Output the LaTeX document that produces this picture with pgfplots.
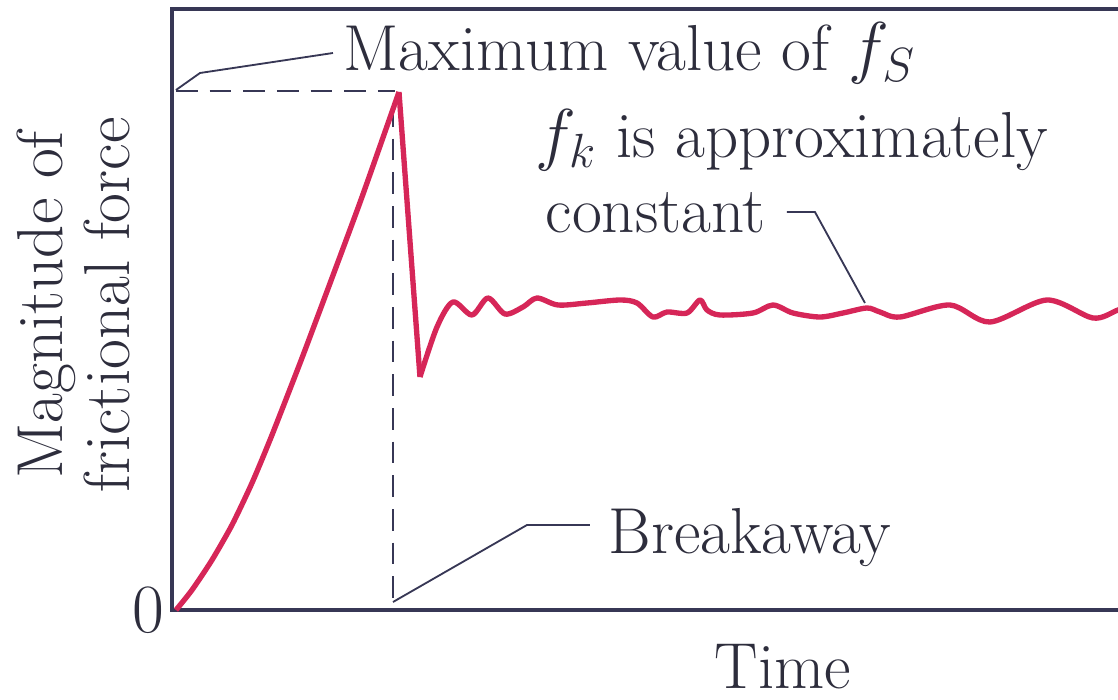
\documentclass[border=0pt]{standalone}
\usepackage{pgfplots}
\pgfplotsset{compat=1.18}
\definecolor{fric}{RGB}{214,38,88}
\definecolor{axc}{RGB}{55,55,85}
\definecolor{txt}{RGB}{45,45,60}
\newcommand{\fs}{\fontsize{19.5}{21}\selectfont}
\begin{document}
\begin{tikzpicture}[x=1pt,y=1pt]
\useasboundingbox (-51.6,-26.7) rectangle (283.8,183.0);
\begin{axis}[
  scale only axis, width=288pt, height=180.3pt,
  xmin=0, xmax=960, ymin=0, ymax=601,
  axis line style={draw=none}, clip=false,
  xtick=\empty, ytick={0}, major tick length=0pt,
  yticklabel style={font=\fs, text=txt, inner sep=2pt},
]
% frame (right side lies beyond the picture)
\draw[axc, line width=1pt] (axis cs:960,601) -- (axis cs:0,601) -- (axis cs:0,0) -- (axis cs:960,0);
% guide lines
\draw[axc, line width=0.6pt, dash pattern=on 6.5pt off 3.6pt] (axis cs:4,519) -- (axis cs:223,519);
\draw[axc, line width=0.6pt, dash pattern=on 6.5pt off 3.6pt] (axis cs:221,505) -- (axis cs:221,2);
% leaders
\draw[axc, line width=0.55pt] (axis cs:161,557) -- (axis cs:28,537) -- (axis cs:4,520);
\draw[axc, line width=0.55pt] (axis cs:221,8) -- (axis cs:355,85) -- (axis cs:418,85);
\draw[axc, line width=0.55pt] (axis cs:615,398) -- (axis cs:643,398) -- (axis cs:693,307);
% frictional force curve
\addplot[fric, line width=1.6pt, line join=round, smooth, tension=0.4] coordinates {
 (4,0)(20,20)(40,50)(60,85)(80,127)(100,175)(130,252)(160,332)(190,413)(227,518)};
\addplot[fric, line width=1.6pt, line join=round] coordinates {(227,518)(248,233)};
\addplot[fric, line width=1.6pt, line join=round, smooth, tension=0.5] coordinates {
 (248,233)(265,283)(281,308)(300,295)(316,312)(333,296)(351,303)(365,312)(386,305)
 (415,307)(448,310)(465,307)(481,293)(495,298)(515,297)(528,310)(535,300)(548,295)
 (581,297)(601,305)(621,297)(648,293)(671,297)(695,302)(708,298)(728,293)(778,305)
 (818,288)(875,310)(921,292)(946,300)(968,308)};
% texts
\node[anchor=base west, inner sep=0pt, font=\fs, text=txt] at (axis cs:171,539) {Maximum value of $f_S$};
\node[anchor=base west, inner sep=0pt, font=\fs, text=txt] at (axis cs:363,453) {$f_k$ is approximately};
\node[anchor=base west, inner sep=0pt, font=\fs, text=txt] at (axis cs:373,378) {constant};
\node[anchor=base west, inner sep=0pt, font=\fs, text=txt] at (axis cs:436,57) {Breakaway};
\node[anchor=base, inner sep=0pt, font=\fs, text=txt] at (axis cs:611,-78) {Time};
\node[anchor=base, rotate=90, inner sep=0pt, font=\fs, text=txt] at (axis cs:-110,305) {Magnitude of};
\node[anchor=base, rotate=90, inner sep=0pt, font=\fs, text=txt] at (axis cs:-42,305) {frictional force};
\end{axis}
\end{tikzpicture}
\end{document}
